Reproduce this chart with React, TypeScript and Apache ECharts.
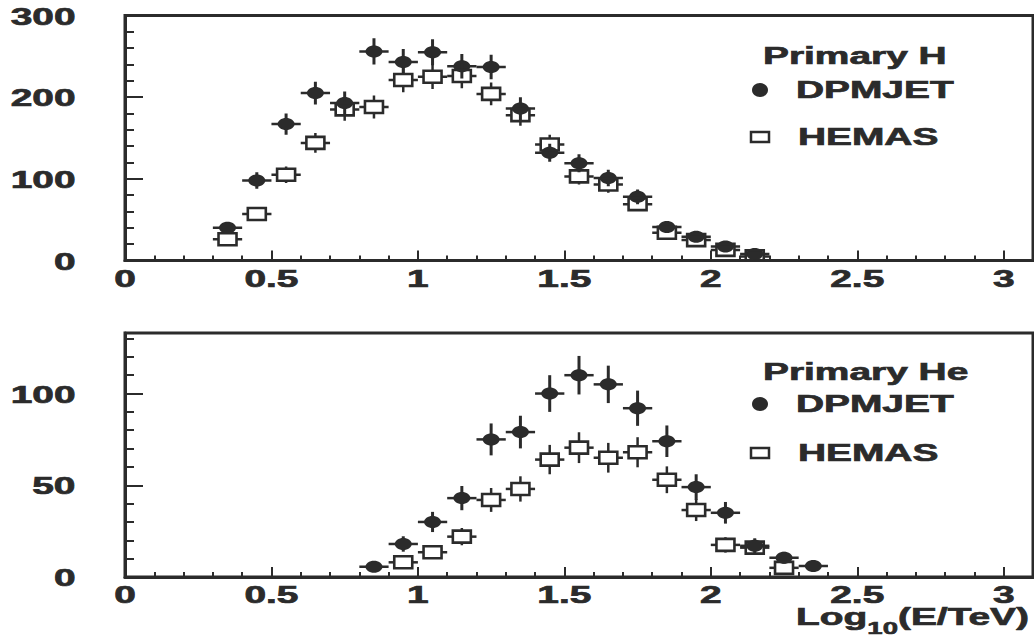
import React, { useEffect, useRef } from "react";
import * as echarts from "echarts";

// ---------- data (bin centres in log10(E/TeV), counts, statistical errors) ----------
const topDpmjetX = [0.35, 0.45, 0.55, 0.65, 0.75, 0.85, 0.95, 1.05, 1.15, 1.25, 1.35, 1.45, 1.55, 1.65, 1.75, 1.85, 1.95, 2.05, 2.15];
const topDpmjetY = [40, 98, 167, 205, 193, 256, 243, 255, 238, 237, 186, 132, 119, 101, 78, 41, 29, 17, 8];
const topDpmjetErr = [6, 10, 13, 14, 14, 16, 16, 16, 15, 15, 14, 11, 11, 10, 9, 6, 5, 4, 3];

const topHemasX = [0.35, 0.45, 0.55, 0.65, 0.75, 0.85, 0.95, 1.05, 1.15, 1.25, 1.35, 1.45, 1.55, 1.65, 1.75, 1.85, 1.95, 2.05, 2.15];
const topHemasY = [26, 57, 105, 144, 185, 188, 221, 225, 226, 204, 178, 142, 103, 93, 69, 34, 25, 13, 5];
const topHemasErr = [5, 8, 10, 12, 14, 14, 15, 15, 15, 14, 13, 12, 10, 10, 8, 6, 5, 4, 2];

const botDpmjetX = [0.85, 0.95, 1.05, 1.15, 1.25, 1.35, 1.45, 1.55, 1.65, 1.75, 1.85, 1.95, 2.05, 2.15, 2.25, 2.35];
const botDpmjetY = [5.6, 18, 30, 43, 75, 79, 100, 110, 105, 92, 74, 49, 35, 17, 10.5, 6];
const botDpmjetErr = [2.4, 4.2, 5.5, 6.6, 8.7, 8.9, 10, 10.5, 10.2, 9.6, 8.6, 7, 5.9, 4.1, 3.2, 2.4];

const botHemasX = [0.95, 1.05, 1.15, 1.25, 1.35, 1.45, 1.55, 1.65, 1.75, 1.85, 1.95, 2.05, 2.15, 2.25];
const botHemasY = [8, 13.5, 22, 42, 48, 64, 70.5, 65, 68, 53, 36.5, 17.5, 16, 5];
const botHemasErr = [2.8, 3.7, 4.7, 6.5, 6.9, 8, 8.4, 8.1, 8.2, 7.3, 6, 4.2, 4, 2.2];

const xTickLabels = [0, 0.5, 1, 1.5, 2, 2.5, 3];
const topYTickLabels = [0, 100, 200, 300];
const botYTickLabels = [0, 50, 100];

const topTitle = "Primary H";
const botTitle = "Primary He";
const nameA = "DPMJET";
const nameB = "HEMAS";

// ---------- style ----------
const INK = "#2b2b2b";
const FONT = "'Liberation Sans', Arial, Helvetica, sans-serif";
const FS = 24;
const STRETCH = 1.62;
const HALF_BIN = 0.05;

const txt = (text: string, extra: any = {}) => ({
  text,
  fill: INK,
  stroke: INK,
  lineWidth: 0.7,
  fontSize: FS,
  fontWeight: "bold",
  fontFamily: FONT,
  ...extra,
});

const renderDpm = (params: any, api: any) => {
  const x = api.value(0);
  const y = api.value(1);
  const e = api.value(2);
  const c = api.coord([x, y]);
  const l = api.coord([x - HALF_BIN, y]);
  const r = api.coord([x + HALF_BIN, y]);
  const t = api.coord([x, y + e]);
  const b = api.coord([x, Math.max(0, y - e)]);
  return {
    type: "group",
    children: [
      { type: "line", shape: { x1: l[0], y1: c[1], x2: r[0], y2: c[1] }, style: { stroke: INK, lineWidth: 2.5 } },
      { type: "line", shape: { x1: c[0], y1: t[1], x2: c[0], y2: b[1] }, style: { stroke: INK, lineWidth: 3 } },
      { type: "ellipse", shape: { cx: c[0], cy: c[1], rx: 8.5, ry: 6 }, style: { fill: INK } },
    ],
  };
};

const renderHemas = (params: any, api: any) => {
  const x = api.value(0);
  const y = api.value(1);
  const e = api.value(2);
  const c = api.coord([x, y]);
  const l = api.coord([x - HALF_BIN, y]);
  const r = api.coord([x + HALF_BIN, y]);
  const t = api.coord([x, y + e]);
  const b = api.coord([x, Math.max(0, y - e)]);
  const hw = 9;
  const hh = 6;
  const children: any[] = [
    { type: "line", shape: { x1: l[0], y1: c[1], x2: c[0] - hw, y2: c[1] }, style: { stroke: INK, lineWidth: 2.5 } },
    { type: "line", shape: { x1: c[0] + hw, y1: c[1], x2: r[0], y2: c[1] }, style: { stroke: INK, lineWidth: 2.5 } },
  ];
  if (t[1] < c[1] - hh) {
    children.push({ type: "line", shape: { x1: c[0], y1: t[1], x2: c[0], y2: c[1] - hh }, style: { stroke: INK, lineWidth: 2.5 } });
  }
  if (b[1] > c[1] + hh) {
    children.push({ type: "line", shape: { x1: c[0], y1: c[1] + hh, x2: c[0], y2: b[1] }, style: { stroke: INK, lineWidth: 2.5 } });
  }
  children.push({
    type: "rect",
    shape: { x: c[0] - hw, y: c[1] - hh, width: 2 * hw, height: 2 * hh },
    style: { fill: "none", stroke: INK, lineWidth: 2.6 },
  });
  return { type: "group", children };
};

const renderXLabel = (params: any, api: any) => {
  const v = api.value(0);
  const p = api.coord([v, 0]);
  return {
    type: "text",
    x: p[0],
    y: p[1] + 18,
    scaleX: STRETCH,
    style: txt(String(v), { align: "center", verticalAlign: "middle", textAlign: "center", textVerticalAlign: "middle" }),
  };
};

const renderYLabel = (params: any, api: any) => {
  const v = api.value(1);
  const p = api.coord([0, v]);
  return {
    type: "text",
    x: p[0] - 49.5,
    y: p[1] + 1,
    scaleX: STRETCH,
    style: txt(String(v), { align: "right", verticalAlign: "middle", textAlign: "right", textVerticalAlign: "middle" }),
  };
};

const makeXAxes = (gridIndex: number) => [
  {
    gridIndex,
    type: "value",
    min: 0,
    max: 3.1,
    interval: 0.5,
    position: "bottom",
    axisLine: { show: true, onZero: false, lineStyle: { color: INK, width: 3 } },
    axisTick: { show: true, inside: true, length: 10, lineStyle: { color: INK, width: 2 } },
    axisLabel: { show: false },
    splitLine: { show: false },
  },
  {
    gridIndex,
    type: "value",
    min: 0,
    max: 3.1,
    interval: 0.1,
    position: "bottom",
    axisLine: { show: false, onZero: false },
    axisTick: { show: true, inside: true, length: 5, lineStyle: { color: INK, width: 2 } },
    axisLabel: { show: false },
    splitLine: { show: false },
  },
];

const makeYAxes = (gridIndex: number, max: number, major: number, minor: number) => [
  {
    gridIndex,
    type: "value",
    min: 0,
    max,
    interval: major,
    position: "left",
    axisLine: { show: true, onZero: false, lineStyle: { color: INK, width: 3 } },
    axisTick: { show: true, inside: true, length: 18, lineStyle: { color: INK, width: 2 } },
    axisLabel: { show: false },
    splitLine: { show: false },
  },
  {
    gridIndex,
    type: "value",
    min: 0,
    max,
    interval: minor,
    position: "left",
    axisLine: { show: false, onZero: false },
    axisTick: { show: true, inside: true, length: 9, lineStyle: { color: INK, width: 2 } },
    axisLabel: { show: false },
    splitLine: { show: false },
  },
];

const legendGroup = (titleY: number, aY: number, bY: number, title: string) => [
  { type: "text", x: 763, y: titleY, scaleX: STRETCH, style: txt(title, { align: "left", verticalAlign: "middle", textAlign: "left", textVerticalAlign: "middle" }) },
  { type: "ellipse", shape: { cx: 760, cy: aY, rx: 8, ry: 7 }, style: { fill: INK } },
  { type: "text", x: 796, y: aY, scaleX: STRETCH, style: txt(nameA, { align: "left", verticalAlign: "middle", textAlign: "left", textVerticalAlign: "middle" }) },
  { type: "rect", shape: { x: 751, y: bY - 5, width: 18, height: 10 }, style: { fill: "none", stroke: INK, lineWidth: 2.5 } },
  { type: "text", x: 798, y: bY, scaleX: STRETCH, style: txt(nameB, { align: "left", verticalAlign: "middle", textAlign: "left", textVerticalAlign: "middle" }) },
];

export default function App() {
  const ref = useRef<HTMLDivElement>(null);

  useEffect(() => {
    if (!ref.current) return;
    const chart = echarts.init(ref.current, null, { renderer: "svg" });

    const zip3 = (xs: number[], ys: number[], es: number[]) => xs.map((x, i) => [x, ys[i], es[i]]);

    chart.setOption({
      animation: false,
      backgroundColor: "#ffffff",
      grid: [
        { left: 125, top: 15.5, width: 908, height: 245, show: true, borderColor: INK, borderWidth: 3, backgroundColor: "transparent" },
        { left: 125, top: 333, width: 908, height: 244, show: true, borderColor: INK, borderWidth: 3, backgroundColor: "transparent" },
      ],
      xAxis: [...makeXAxes(0), ...makeXAxes(1)],
      yAxis: [...makeYAxes(0, 300, 100, 20), ...makeYAxes(1, 133, 50, 10)],
      series: [
        { name: nameA + " (H)", type: "custom", xAxisIndex: 0, yAxisIndex: 0, renderItem: renderDpm, data: zip3(topDpmjetX, topDpmjetY, topDpmjetErr), encode: { x: 0, y: 1 }, clip: true, z: 3 },
        { name: nameB + " (H)", type: "custom", xAxisIndex: 0, yAxisIndex: 0, renderItem: renderHemas, data: zip3(topHemasX, topHemasY, topHemasErr), encode: { x: 0, y: 1 }, clip: true, z: 4 },
        { name: nameA + " (He)", type: "custom", xAxisIndex: 2, yAxisIndex: 2, renderItem: renderDpm, data: zip3(botDpmjetX, botDpmjetY, botDpmjetErr), encode: { x: 0, y: 1 }, clip: true, z: 3 },
        { name: nameB + " (He)", type: "custom", xAxisIndex: 2, yAxisIndex: 2, renderItem: renderHemas, data: zip3(botHemasX, botHemasY, botHemasErr), encode: { x: 0, y: 1 }, clip: true, z: 4 },
        { name: "xLabelsTop", type: "custom", xAxisIndex: 0, yAxisIndex: 0, renderItem: renderXLabel, data: xTickLabels.map((v) => [v, 0]), encode: { x: 0, y: 1 }, clip: false, silent: true },
        { name: "xLabelsBottom", type: "custom", xAxisIndex: 2, yAxisIndex: 2, renderItem: renderXLabel, data: xTickLabels.map((v) => [v, 0]), encode: { x: 0, y: 1 }, clip: false, silent: true },
        { name: "yLabelsTop", type: "custom", xAxisIndex: 0, yAxisIndex: 0, renderItem: renderYLabel, data: topYTickLabels.map((v) => [0, v]), encode: { x: 0, y: 1 }, clip: false, silent: true },
        { name: "yLabelsBottom", type: "custom", xAxisIndex: 2, yAxisIndex: 2, renderItem: renderYLabel, data: botYTickLabels.map((v) => [0, v]), encode: { x: 0, y: 1 }, clip: false, silent: true },
      ],
      graphic: [
        ...legendGroup(56, 90, 137, topTitle),
        ...legendGroup(372, 404, 453, botTitle),
        {
          type: "text",
          x: 1029,
          y: 617,
          scaleX: STRETCH,
          style: {
            text: "{a|Log}{s|10}{a|(E/TeV)}",
            align: "right",
            verticalAlign: "middle",
            textAlign: "right",
            textVerticalAlign: "middle",
            fill: INK,
            fontFamily: FONT,
            fontWeight: "bold",
            fontSize: FS,
            rich: {
              a: { fontSize: FS, fontWeight: "bold", fontFamily: FONT, fill: INK, stroke: INK, lineWidth: 0.7, lineHeight: 26 },
              s: { fontSize: 17, fontWeight: "bold", fontFamily: FONT, fill: INK, stroke: INK, lineWidth: 0.6, lineHeight: 26, verticalAlign: "middle", padding: [22, 0, 0, 0] },
            },
          },
        },
      ],
    });

    return () => chart.dispose();
  }, []);

  return (
    <div
      ref={ref}
      style={{ position: "fixed", left: 0, top: 0, width: 1034, height: 642, background: "#ffffff" }}
    />
  );
}
